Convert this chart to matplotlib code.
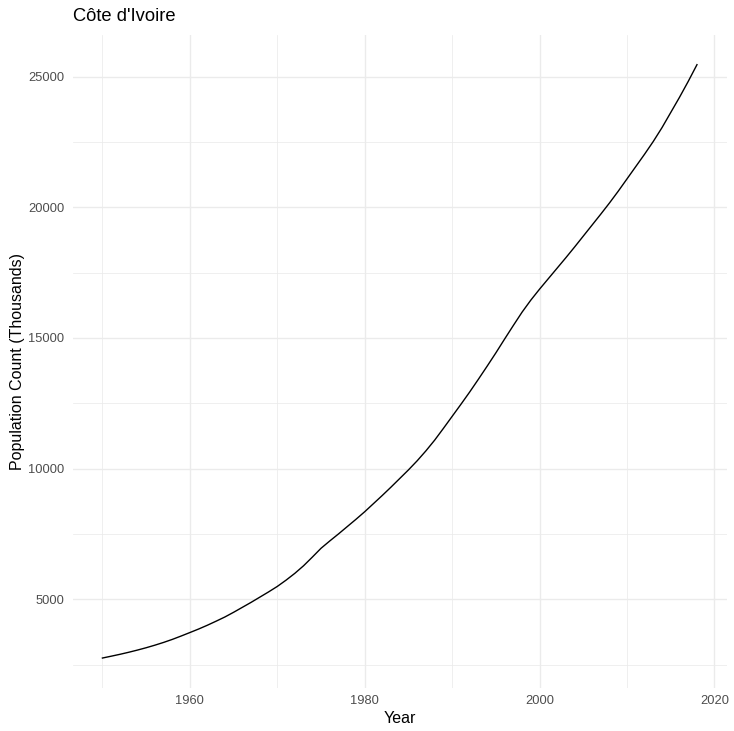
import numpy as np
import matplotlib
matplotlib.use("Agg")
from matplotlib import pyplot as plt
from matplotlib.ticker import MultipleLocator

# population of Cote d'Ivoire, thousands
years = list(range(1950, 2019))
population = [
    2750, 2820, 2892, 2970, 3054, 3144, 3242, 3348, 3464, 3592,   # 1950s
    3725, 3860, 4005, 4160, 4320, 4500, 4690, 4880, 5080, 5280,   # 1960s
    5490, 5730, 5990, 6280, 6610, 6950, 7230, 7500, 7780, 8060,   # 1970s
    8350, 8660, 8970, 9290, 9620, 9950, 10300, 10680, 11090, 11540,  # 1980s
    12000, 12460, 12930, 13420, 13920, 14430, 14960, 15480, 15990, 16450,  # 1990s
    16870, 17270, 17670, 18070, 18480, 18900, 19320, 19740, 20170, 20620,  # 2000s
    21090, 21560, 22030, 22520, 23050, 23630, 24210, 24820, 25460,  # 2010s
]

title = "Côte d'Ivoire"
xlabel = "Year"
ylabel = "Population Count (Thousands)"

plt.rcParams['font.family'] = ['Liberation Sans', 'DejaVu Sans']

W, H = 734, 731
fig = plt.figure(figsize=(W / 100, H / 100), dpi=100)
left, right, top, bottom = 72.7, 726.7, 35.0, 687.7
ax = fig.add_axes([left / W, 1 - bottom / H, (right - left) / W, (bottom - top) / H])

ax.plot(years, population, color='black', lw=1.0, zorder=3)

# ggplot-like 5% expansion
xr = max(years) - min(years)
ax.set_xlim(min(years) - 0.05 * xr, max(years) + 0.05 * xr)
yr = max(population) - min(population)
ax.set_ylim(min(population) - 0.05 * yr, max(population) + 0.05 * yr)

ax.xaxis.set_major_locator(MultipleLocator(20))
ax.xaxis.set_minor_locator(MultipleLocator(10))
ax.yaxis.set_major_locator(MultipleLocator(5000))
ax.yaxis.set_minor_locator(MultipleLocator(2500))

ax.grid(which='major', color='#EBEBEB', lw=1.0)
ax.grid(which='minor', color='#EBEBEB', lw=0.55)
ax.set_axisbelow(True)
for s in ax.spines.values():
    s.set_visible(False)

ax.tick_params(which='both', length=0)
ax.tick_params(axis='x', pad=5, labelsize=9.3, labelcolor='#4D4D4D')
ax.tick_params(axis='y', pad=6, labelsize=9.3, labelcolor='#4D4D4D')

ax.set_xlabel(xlabel, fontsize=11.5, labelpad=3)
ax.set_ylabel(ylabel, fontsize=11.5, labelpad=2.5)
ax.set_title(title, fontsize=13.2, loc='left', pad=10)

fig.savefig("out.png", dpi=100)
